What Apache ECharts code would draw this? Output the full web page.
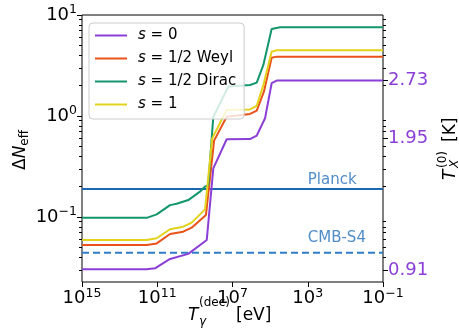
<!DOCTYPE html>
<html><head><meta charset="utf-8">
<script src="https://cdn.jsdelivr.net/npm/echarts@6/dist/echarts.min.js"></script>
<style>html,body{margin:0;padding:0;background:#fff}#c{width:459px;height:336px}</style>
</head><body><div id="c"></div>
<script>
// ---------- data ----------
const T_s0    = [1e15, 3.63e11, 1.32e11, 2.09e10, 2.24e9, 2.34e8, 1.05e8, 2.04e7, 1.17e6, 5.13e5, 1.86e5, 8.3e4, 4.47e4, 0.1];
const N_s0    = [0.0303, 0.0303, 0.0310, 0.0384, 0.0431, 0.0591, 0.303, 0.588, 0.591, 0.640, 0.949, 2.11, 2.24, 2.24];
const T_weyl  = [1e15, 3.63e11, 1.07e11, 2.09e10, 4.17e9, 1.48e9, 2.57e8, 9.5e7, 2.04e7, 1.17e6, 5.13e5, 2.14e5, 8.3e4, 4.47e4, 0.1];
const N_weyl  = [0.0528, 0.0528, 0.0547, 0.0679, 0.0715, 0.0783, 0.1047, 0.57, 0.984, 1.047, 1.128, 1.74, 3.78, 3.87, 3.87];
const T_dirac = [1e15, 3.63e11, 1.07e11, 2.09e10, 9.3e9, 2.24e9, 5.37e8, 2.88e8, 1.95e8, 1.05e8, 1.66e7, 1.17e6, 5.13e5, 2.29e5, 8.3e4, 2.95e4, 0.1];
const N_dirac = [0.098, 0.098, 0.106, 0.131, 0.135, 0.147, 0.178, 0.200, 0.207, 0.98, 1.96, 2.03, 2.14, 3.2, 7.26, 7.55, 7.55];
const T_s1    = [1e15, 3.63e11, 1.07e11, 2.09e10, 4.17e9, 1.48e9, 2.88e8, 1.2e8, 2.04e7, 1.17e6, 5.13e5, 2.29e5, 8.3e4, 4.47e4, 0.1];
const N_s1    = [0.0592, 0.0592, 0.0615, 0.0755, 0.0802, 0.0879, 0.119, 0.60, 1.146, 1.16, 1.26, 2.03, 4.33, 4.47, 4.47];

const seriesNames = ['s = 0', 's = 1/2 Weyl', 's = 1/2 Dirac', 's = 1'];
const seriesColors = ['#8B3FD6', '#E8531A', '#13966C', '#E3D21B'];

const planck = 0.189;
const cmbS4 = 0.0443;
const annotT = 1e3;
const annotTexts = ['Planck', 'CMB-S4'];

const xMin = 0.1, xMax = 1e15;
const yMin = 0.0227, yMax = 10;
const xTicks = [1e15, 1e11, 1e7, 1e3, 0.1];
const yTicks = [0.1, 1, 10];
const rightTickVals = [2.24, 0.601, 0.0299];
const rightTickLabels = ['2.73', '1.95', '0.91'];

// ---------- helpers ----------
const FONT = 'DejaVu Sans';
const zip = (a, b) => a.map((v, i) => [v, b[i]]);
// keep tick values strictly inside the axis extent to avoid rounding filtering
const inside = (vals, lo, hi) => vals.map(v => Math.min(Math.max(v, lo * (1 + 1e-9)), hi * (1 - 1e-9)));
const minorVals = [];
for (let e = -2; e <= 0; e++) for (let k = 2; k <= 9; k++) {
  const v = +(k * Math.pow(10, e)).toPrecision(6);
  if (v >= yMin && v <= yMax) minorVals.push(v);
}
const supRich = {
  b: {fontSize: 18, fontFamily: FONT, color: '#000'},
  sup: {fontSize: 12.5, fontFamily: FONT, color: '#000', padding: [0, 0, 10, 0]}
};
function pow10Label(v) {
  const e = Math.round(Math.log10(v));
  return '{b|10}{sup|' + (e < 0 ? '\u2212' + (-e) : e) + '}';
}
function rightLabel(v) {
  let best = 0;
  rightTickVals.forEach((t, i) => { if (Math.abs(Math.log(t / v)) < Math.abs(Math.log(rightTickVals[best] / v))) best = i; });
  return rightTickLabels[best];
}
const tickLine = {color: '#000', width: 1};
const xTickVals = inside(xTicks, xMin, xMax);
const yTickVals = inside(yTicks, yMin, yMax);

function yAx(extra) {
  return Object.assign({
    type: 'log', logBase: 10, min: yMin, max: yMax,
    axisLine: {show: false}, splitLine: {show: false}, minorTick: {show: false}
  }, extra);
}

const lineSeries = [[T_s0, N_s0], [T_weyl, N_weyl], [T_dirac, N_dirac], [T_s1, N_s1]].map((d, i) => ({
  name: seriesNames[i], type: 'line', data: zip(d[0], d[1]),
  symbol: 'none', showSymbol: false, smooth: false,
  color: seriesColors[i],
  lineStyle: {width: 2, color: seriesColors[i]},
  z: 3, silent: true
}));

const hSeries = [
  {type: 'line', data: [[xMax, planck], [xMin, planck]], symbol: 'none',
   lineStyle: {width: 2, color: '#1B67B2'}, z: 2, silent: true},
  {type: 'line', data: [[xMax, cmbS4], [xMin, cmbS4]], symbol: 'none',
   lineStyle: {width: 2, color: '#2F7DC6', type: [7, 4]}, z: 2, silent: true},
  {type: 'scatter', symbolSize: 0, silent: true,
   data: [
     {value: [annotT, planck], label: {position: [0, -9]}},
     {value: [annotT, cmbS4], label: {position: [0, -15]}}
   ],
   label: {show: true, formatter: p => annotTexts[p.dataIndex], color: '#236FBA',
           fontSize: 15, fontFamily: FONT, align: 'left', verticalAlign: 'middle'}}
];

const chart = echarts.init(document.getElementById('c'), null, {renderer: 'canvas'});
chart.setOption({
  animation: false,
  backgroundColor: '#fff',
  textStyle: {fontFamily: FONT},
  grid: {left: 82, right: 76, top: 15, bottom: 54, show: true, borderColor: '#000', borderWidth: 1,
         backgroundColor: 'transparent', containLabel: false, outerBoundsMode: 'none'},
  legend: {
    orient: 'vertical', left: 89, top: 23, padding: [5, 8, 7, 6],
    itemWidth: 32, itemHeight: 2, itemGap: 8, icon: 'rect',
    backgroundColor: 'rgba(255,255,255,0.8)', borderColor: '#cccccc', borderWidth: 1, borderRadius: 4,
    data: seriesNames,
    formatter: n => '{i|s}' + n.slice(1),
    textStyle: {fontSize: 15, fontFamily: FONT, color: '#000', padding: [0, 0, 0, 6], lineHeight: 14,
                rich: {i: {fontStyle: 'italic', fontSize: 15, fontFamily: FONT, lineHeight: 14}}}
  },
  xAxis: [{
    type: 'log', logBase: 10, min: xMin, max: xMax, inverse: true,
    axisLine: {show: false}, splitLine: {show: false}, minorTick: {show: false},
    axisTick: {show: true, length: 5, lineStyle: tickLine, customValues: xTickVals},
    axisLabel: {customValues: xTickVals, formatter: pow10Label, margin: 5, rich: supRich,
                showMinLabel: true, showMaxLabel: true, hideOverlap: false}
  }],
  yAxis: [
    yAx({position: 'left',
      axisTick: {show: true, length: 5, lineStyle: tickLine, customValues: yTickVals},
      axisLabel: {customValues: yTickVals, formatter: pow10Label, margin: 5, rich: supRich,
                  showMinLabel: true, showMaxLabel: true}}),
    yAx({position: 'left',
      axisTick: {show: true, length: 3, lineStyle: tickLine, customValues: minorVals},
      axisLabel: {show: false}}),
    yAx({position: 'right',
      axisTick: {show: true, length: 5, lineStyle: tickLine, customValues: rightTickVals},
      axisLabel: {customValues: rightTickVals, formatter: rightLabel, margin: 5,
                  color: '#8B3FD6', fontSize: 18, fontFamily: FONT, showMinLabel: true, showMaxLabel: true}}),
    yAx({position: 'right',
      axisTick: {show: true, length: 3, lineStyle: tickLine, customValues: minorVals},
      axisLabel: {show: false}})
  ],
  graphic: [
    {type: 'text', x: 21, y: 150, rotation: Math.PI / 2, silent: true,
     style: {text: '{d|Δ}{n|N}{s|eff}', align: 'center', verticalAlign: 'middle',
             rich: {d: {fontSize: 17, fontFamily: FONT, color: '#000'},
                    n: {fontSize: 17, fontFamily: FONT, fontStyle: 'italic', color: '#000'},
                    s: {fontSize: 12, fontFamily: FONT, color: '#000', padding: [8, 0, 0, 0]}}}},
    {type: 'group', x: 451, y: 150, rotation: Math.PI / 2, silent: true, children: [
      {type: 'text', x: -30, y: 0, style: {text: 'T', font: 'italic 17px "DejaVu Sans"', fill: '#000', align: 'left', verticalAlign: 'middle'}},
      {type: 'text', x: -18, y: -8, style: {text: '(0)', font: '12px "DejaVu Sans"', fill: '#000', align: 'left', verticalAlign: 'middle'}},
      {type: 'text', x: -18, y: 4, style: {text: 'X', font: 'italic 12px "DejaVu Sans"', fill: '#000', align: 'left', verticalAlign: 'middle'}},
      {type: 'text', x: 8, y: 0, style: {text: '[K]', font: '17px "DejaVu Sans"', fill: '#000', align: 'left', verticalAlign: 'middle'}}
    ]},
    {type: 'group', x: 0, y: 0, silent: true, children: [
      {type: 'text', x: 188, y: 316, style: {text: 'T', font: 'italic 17px "DejaVu Sans"', fill: '#000', align: 'left', verticalAlign: 'middle'}},
      {type: 'text', x: 199, y: 303, style: {text: '(dec)', font: '12px "DejaVu Sans"', fill: '#000', align: 'left', verticalAlign: 'middle'}},
      {type: 'text', x: 199, y: 322, style: {text: 'γ', font: 'italic 12px "DejaVu Sans"', fill: '#000', align: 'left', verticalAlign: 'middle'}},
      {type: 'text', x: 236, y: 316, style: {text: '[eV]', font: '17px "DejaVu Sans"', fill: '#000', align: 'left', verticalAlign: 'middle'}}
    ]}
  ],
  series: lineSeries.concat(hSeries)
});
</script>
</body></html>
